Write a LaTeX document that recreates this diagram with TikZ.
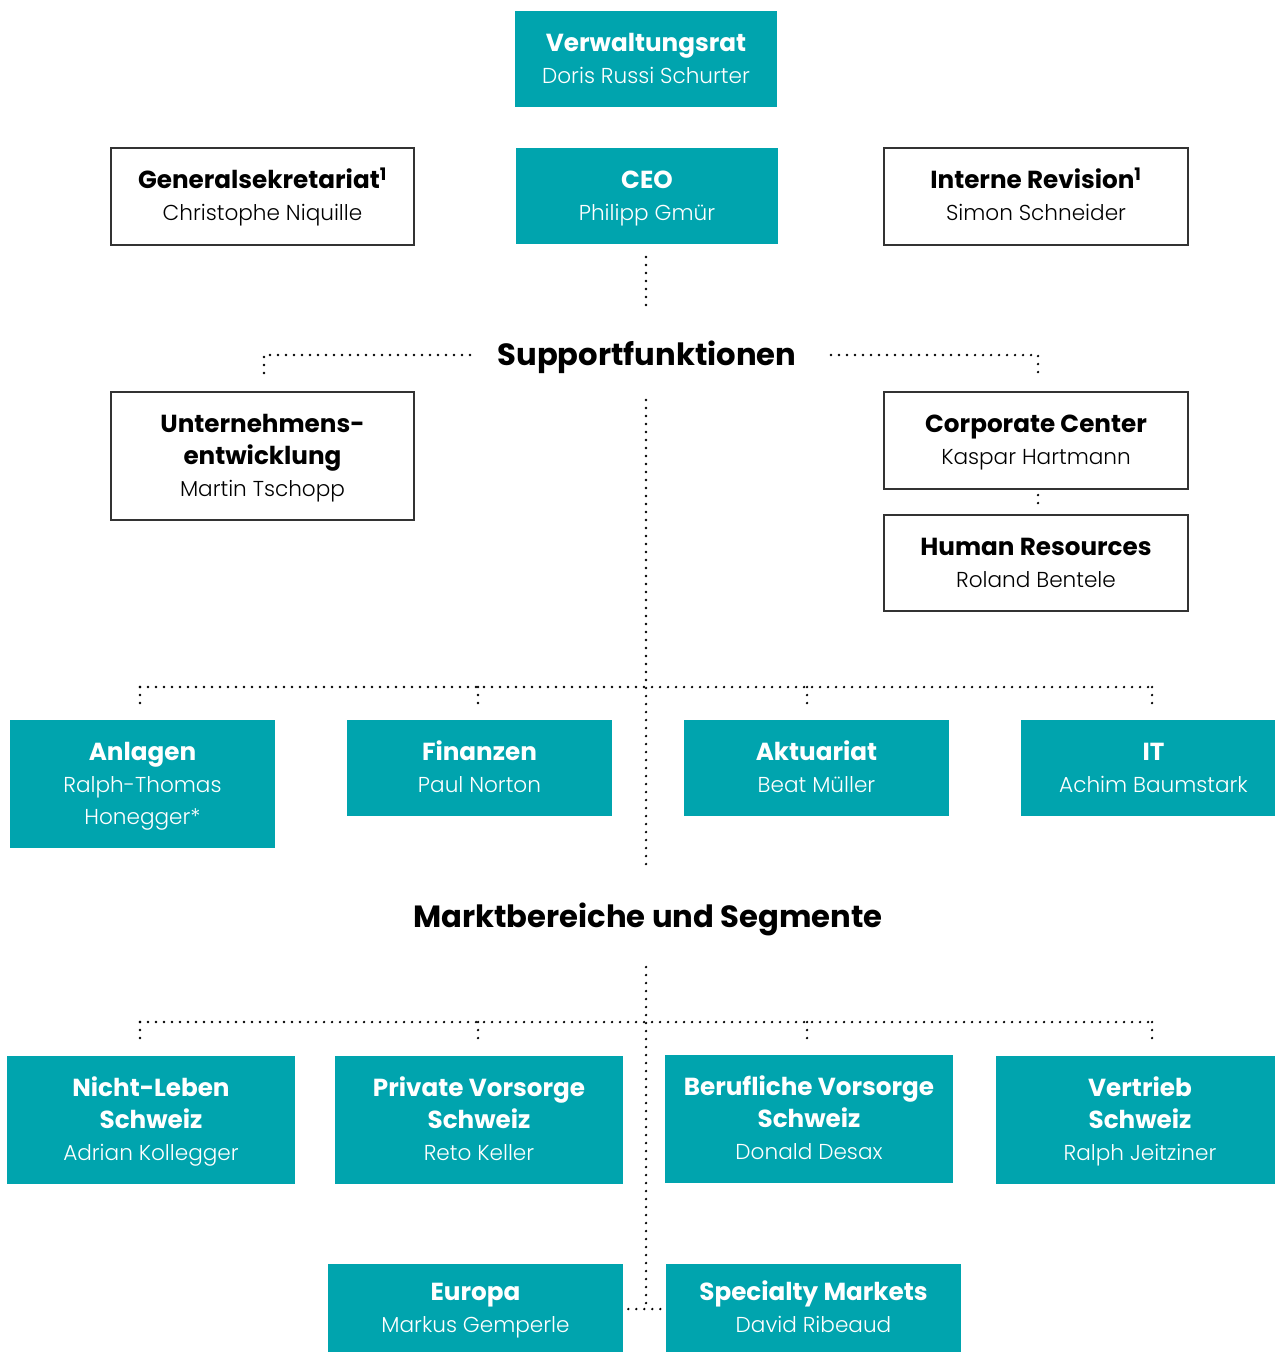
\documentclass[tikz,border=0pt]{standalone}
\usepackage{fontspec}
\IfFontExistsTF{Poppins Light}{\setmainfont{Poppins Light}[BoldFont=Poppins Bold]}{\setmainfont{Poppins}}
\definecolor{tealc}{RGB}{0,164,174}
\newcommand\hd[1]{\smash{\bfseries\fontsize{18.5}{24}\selectfont #1}\rule{0pt}{12.4pt}}
\newcommand\nm[1]{\smash{\fontsize{16.2}{24}\selectfont #1}\rule{0pt}{12.4pt}}
\begin{document}
\begin{tikzpicture}[x=0.75pt,y=-0.75pt,
  base/.style 2 args={minimum width=#1*0.75pt, minimum height=#2*0.75pt, inner sep=0pt, align=center, font=\fontsize{16.2}{24}\selectfont},
  tealbox/.style 2 args={base={#1}{#2}, fill=tealc, text=white},
  whitebox/.style 2 args={base={#1}{#2}, draw=black!80, line width=0.9pt, text=black},
  heading/.style={font=\fontsize{23}{28}\selectfont\bfseries, inner sep=0pt},
  dotline/.style={line width=1.9pt, line cap=round, dash pattern=on 0pt off 6pt}]
\useasboundingbox (0,0) rectangle (1274,1352);
% top
\node[tealbox={262}{96}] (vr) at (646,59) {\hd{Verwaltungsrat}\\\nm{Doris Russi Schurter}};
\node[whitebox={303}{97}] (gs) at (262.5,196.5) {\hd{Generalsekretariat\textsuperscript{1}}\\\nm{Christophe Niquille}};
\node[tealbox={262}{96}] (ceo) at (647,196) {\hd{CEO}\\\nm{Philipp Gmür}};
\node[whitebox={304}{97}] (ir) at (1036,196.5) {\hd{Interne Revision\textsuperscript{1}}\\\nm{Simon Schneider}};
\coordinate (c1) at (646,257);
\coordinate (c2) at (646,305);
\draw[dotline] (c1) -- (c2);
% support
\node[heading] (sf) at (647,357) {Supportfunktionen};
\coordinate (sl1) at (470,355);
\coordinate (sl2) at (264,355);
\coordinate (sl3) at (264,375);
\coordinate (sr1) at (831,355);
\coordinate (sr2) at (1038,355);
\coordinate (sr3) at (1038,375);
\draw[dotline] (sl1) -- (sl2) -- (sl3);
\draw[dotline] (sr1) -- (sr2) -- (sr3);
\node[whitebox={303}{128}] (ue) at (262.5,456) {\hd{Unternehmens-}\\\hd{entwicklung}\\\nm{Martin Tschopp}};
\node[whitebox={304}{97}] (cc) at (1036,440.5) {\hd{Corporate Center}\\\nm{Kaspar Hartmann}};
\node[whitebox={304}{96}] (hr) at (1036,563) {\hd{Human Resources}\\\nm{Roland Bentele}};
\coordinate (cc1) at (1038,495);
\coordinate (cc2) at (1038,508);
\draw[dotline] (cc1) -- (cc2);
% central line
\coordinate (v1) at (646,400);
\coordinate (v2) at (646,865);
\draw[dotline] (v1) -- (v2);
\coordinate (h1) at (140,687);
\coordinate (h2) at (1152,687);
\draw[dotline] (h1) -- (h2);
\foreach \xx in {140,478,807,1152} {
  \draw[dotline] (\xx,687) -- (\xx,707);
}
\node[tealbox={265}{128}] (an) at (142.5,784) {\hd{Anlagen}\\\nm{Ralph-Thomas}\\\nm{Honegger*}};
\node[tealbox={265}{96}] (fi) at (479.5,768) {\hd{Finanzen}\\\nm{Paul Norton}};
\node[tealbox={265}{96}] (ak) at (816.5,768) {\hd{Aktuariat}\\\nm{Beat Müller}};
\node[tealbox={265}{96}] (it) at (1153.5,768) {\hd{IT}\\\nm{Achim Baumstark}};
% markt
\node[heading] (mb) at (648,919) {Marktbereiche und Segmente};
\coordinate (w1) at (646,967);
\coordinate (w2) at (646,1309);
\draw[dotline] (w1) -- (w2);
\coordinate (k1) at (140,1022);
\coordinate (k2) at (1152,1022);
\draw[dotline] (k1) -- (k2);
\foreach \xx in {140,478,807,1152} {
  \draw[dotline] (\xx,1022) -- (\xx,1042);
}
\node[tealbox={288}{128}] (nl) at (151,1120) {\hd{Nicht-Leben}\\\hd{Schweiz}\\\nm{Adrian Kollegger}};
\node[tealbox={288}{128}] (pv) at (479,1120) {\hd{Private Vorsorge}\\\hd{Schweiz}\\\nm{Reto Keller}};
\node[tealbox={288}{128}] (bv) at (809,1119) {\hd{Berufliche Vorsorge}\\\hd{Schweiz}\\\nm{Donald Desax}};
\node[tealbox={288}{128}] (vs) at (1140,1120) {\hd{Vertrieb}\\\hd{Schweiz}\\\nm{Ralph Jeitziner}};
\node[tealbox={295}{88}] (eu) at (475.5,1308) {\hd{Europa}\\\nm{Markus Gemperle}};
\node[tealbox={295}{88}] (sm) at (813.5,1308) {\hd{Specialty Markets}\\\nm{David Ribeaud}};
\draw[dotline] (eu.east |- w2) ++(5,0) -- (sm.west |- w2);
\end{tikzpicture}
\end{document}
